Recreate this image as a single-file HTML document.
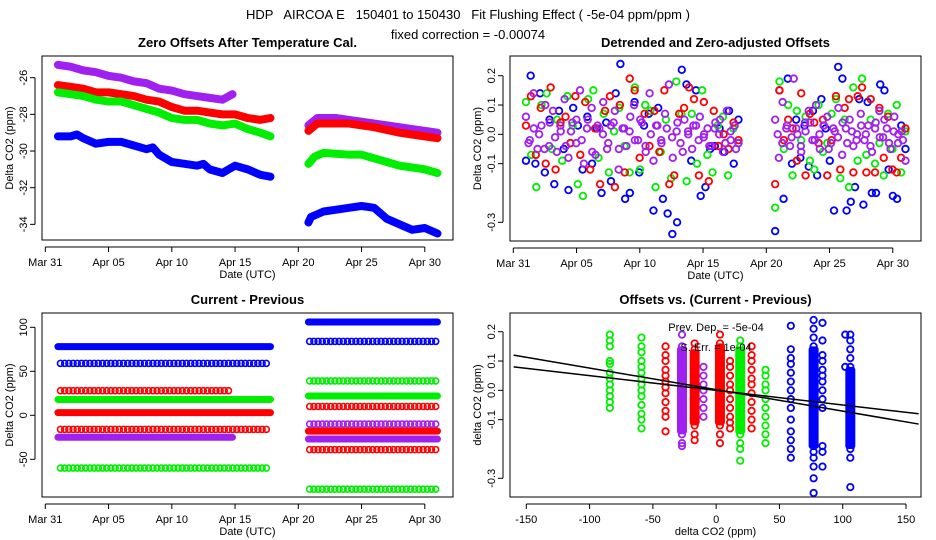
<!DOCTYPE html>
<html><head><meta charset="utf-8">
<style>
body{margin:0;background:#fff;}
svg{display:block;font-family:"Liberation Sans",sans-serif;}
.tk{font-size:11px;fill:#000;}
.ttl{font-size:13px;font-weight:bold;}
.lab{font-size:11px;}
</style></head>
<body>
<svg id="c" width="936" height="540" viewBox="0 0 936 540">
<rect width="936" height="540" fill="#fff"/>
<text x="468" y="19" text-anchor="middle" font-size="13" xml:space="preserve">HDP   AIRCOA E   150401 to 150430   Fit Flushing Effect ( -5e-04 ppm/ppm )</text>
<text x="468" y="39" text-anchor="middle" font-size="13">fixed correction = -0.00074</text>
<g id="g1"></g>
<g id="g2"></g>
<g id="g3"></g>
<g id="g4"></g>
</svg>
<script>
// ===== data =====
const colors = {blue:"#0000ff", red:"#ff0000", green:"#00ee00", purple:"#a020f0"};
const dateTicks = ["Mar 31","Apr 05","Apr 10","Apr 15","Apr 20","Apr 25","Apr 30"];
const dateTickDays = [0,5,10,15,20,25,30];
// Panel 1: [day, value]
const p1BlueA = [[1,-29.2],[2,-29.2],[2.5,-29.1],[3,-29.3],[4,-29.6],[5,-29.5],[6,-29.5],[7,-29.7],[8,-29.9],[8.5,-29.8],[9,-30.2],[10,-30.6],[11,-30.7],[12,-30.8],[12.5,-30.7],[13,-31.0],[14,-31.2],[14.5,-31.0],[15,-30.8],[16,-31.0],[17,-31.3],[17.8,-31.4]];
const p1BlueB = [[20.8,-33.9],[21,-33.6],[22,-33.3],[23,-33.2],[24,-33.1],[25,-33.0],[26,-33.1],[27,-33.7],[28,-34.0],[29,-34.3],[30,-34.2],[31,-34.5]];
const p1RedA = [[1,-26.4],[2,-26.5],[3,-26.6],[4,-26.8],[5,-26.8],[6,-26.9],[7,-27.0],[8,-27.2],[9,-27.3],[10,-27.6],[11,-27.8],[12,-27.8],[13,-27.9],[14,-28.0],[15,-28.0],[16,-28.2],[17,-28.3],[17.8,-28.2]];
const p1RedB = [[20.8,-28.9],[21.5,-28.5],[22,-28.5],[24,-28.5],[26,-28.7],[28,-29.0],[30,-29.2],[31,-29.3]];
const p1GreenA = [[1,-26.8],[2,-26.9],[3,-27.0],[4,-27.2],[5,-27.3],[6,-27.3],[7,-27.5],[8,-27.7],[9,-27.9],[10,-28.2],[11,-28.3],[12,-28.3],[13,-28.5],[14,-28.6],[15,-28.5],[16,-28.8],[17,-29.0],[17.8,-29.2]];
const p1GreenB = [[20.8,-30.7],[21.3,-30.3],[22,-30.1],[24,-30.2],[25,-30.2],[26,-30.4],[27,-30.6],[28,-30.8],[29,-30.9],[30,-31.0],[31,-31.2]];
const p1PurpleA = [[1,-25.3],[2,-25.4],[3,-25.6],[4,-25.7],[5,-25.9],[6,-26.0],[7,-26.2],[8,-26.3],[9,-26.6],[10,-26.7],[11,-26.9],[12,-27.0],[13,-27.1],[14,-27.2],[14.8,-26.9]];
const p1PurpleB = [[20.8,-28.6],[21.5,-28.2],[23,-28.2],[25,-28.4],[27,-28.6],[29,-28.8],[31,-29.0]];
const p1Ticks = [-26,-28,-30,-32,-34];
// Panel 2: detrended values (evenly spread over each segment)
const p2Ticks = [0.2,0.1,0.0,-0.1,-0.3];
const p2TickLabels = ["0.2","0.1","0.0","-0.1","-0.3"];
const p2BlueA = [-0.09,0.2,-0.1,0.14,-0.13,0.05,-0.17,0.08,-0.05,-0.19,0.09,0.03,-0.12,0.06,-0.1,0.02,-0.2,0.04,-0.16,0.14,0.24,-0.22,-0.2,0.11,-0.13,0.03,0.07,-0.26,0.09,-0.22,-0.27,-0.34,-0.3,0.22,0.17,-0.09,0.15,-0.21,-0.18,-0.05,-0.04,0.02,-0.06,0.08,-0.1,0.05];
const p2BlueB = [-0.33,0.15,-0.22,0.19,-0.1,0.05,-0.08,0.03,-0.11,0.08,-0.14,0.12,0.02,-0.09,-0.26,0.23,0.19,-0.26,-0.23,-0.18,0.12,-0.24,0.11,-0.2,-0.2,0.17,0.15,-0.12,-0.21,-0.22,0.03,-0.05];
const p2RedA = [0.03,0.13,-0.07,0.09,-0.1,0.16,-0.12,0.04,0.06,-0.03,0.13,-0.07,0.11,-0.12,0.02,-0.17,0.08,0.13,-0.18,0.1,-0.13,0.19,0.15,-0.08,0.07,-0.04,0.08,-0.06,0.15,-0.17,-0.14,0.07,0.09,0.16,0.12,-0.14,0.11,-0.16,0.08,-0.04,0.0,-0.05,0.04,-0.02];
const p2RedB = [-0.17,0.15,-0.02,0.05,0.02,-0.09,0.14,-0.14,0.07,0.04,-0.03,0.05,-0.14,-0.02,0.13,-0.12,0.09,0.12,-0.13,0.13,0.16,-0.13,0.12,-0.13,0.09,-0.08,0.06,-0.12,-0.13,-0.08,0.02];
const p2GreenA = [0.11,-0.07,-0.18,0.1,0.14,-0.05,0.05,-0.09,0.13,0.03,-0.17,-0.21,0.12,0.15,-0.08,0.07,-0.13,0.01,0.09,-0.04,-0.13,0.16,-0.12,0.1,0.08,-0.18,-0.06,0.05,-0.15,0.18,0.07,-0.16,0.07,-0.1,0.15,-0.07,-0.13,0.03,0.06,-0.14,0.02,-0.03];
const p2GreenB = [-0.25,0.18,-0.05,0.1,-0.14,0.08,-0.02,0.06,-0.09,-0.12,0.1,-0.06,-0.03,0.07,0.12,-0.15,0.05,-0.18,0.16,-0.09,0.19,-0.07,0.05,-0.1,-0.03,-0.14,0.07,-0.05,0.1,-0.13,0.01];
const p2PurpleA = [0.06,-0.02,0.14,-0.05,0.03,0.1,-0.04,0.08,-0.06,0.01,0.12,-0.08,0.04,-0.03,0.15,-0.1,0.05,0.09,-0.07,0.02,0.11,-0.05,0.03,0.08,-0.12,0.02,-0.04,0.06,0.1,-0.02,0.04,-0.06,0.14,-0.09,0.03,-0.02,0.07,0.17,-0.08,0.01,-0.03,0.05,0.0,-0.05,0.03,0.06,-0.01,0.02,-0.04,0.04,0.0,-0.06,0.08,-0.02,0.03,-0.03];
const p2PurpleA2 = [-0.03,0.02,0.0,-0.05,0.04,-0.01,0.03,-0.04,0.01,0.05,-0.02,0.02,-0.06,0.03,0.0,-0.03,0.04,-0.05,0.02,0.01,-0.02,0.05,-0.04,0.0,0.03,-0.03,0.02,-0.01,0.04,-0.06,0.01,0.03,-0.02,0.0,-0.04,0.02,0.05,-0.03,0.01,-0.05];
const p2PurpleB = [0.05,-0.08,0.11,0.02,-0.04,0.19,0.0,-0.06,0.04,0.08,-0.02,0.1,-0.05,0.03,0.06,-0.03,0.01,0.09,-0.07,0.02,0.05,-0.04,0.0,0.07,-0.02,0.03,-0.06,0.04,0.08,-0.01,0.02,-0.05,0.06,-0.03,0.01,-0.09];
const p2PurpleB2 = [0.0,-0.03,0.03,-0.01,0.02,-0.04,0.01,0.04,-0.02,0.0,0.03,-0.05,0.02,-0.01,0.04,-0.03,0.01,-0.02,0.03,0.0,-0.04,0.02,-0.01,0.05,-0.03,0.01,0.0,-0.02];
// Panel 3: levels of each row
const p3Ticks = [100,50,0,-50];
const p3SolidA = [["blue",78],["green",18],["red",3],["purple",-25]];
const p3SolidB = [["blue",106],["green",22],["red",-18],["purple",-27]];
const p3OpenA = [["blue",59,17.7],["red",28,14.8],["red",-16,17.8],["green",-60,17.8]];
const p3OpenB = [["blue",84,31],["green",39,31],["red",10,31],["purple",-10,31],["red",-39,31],["green",-84,31]];
// Panel 4: strips [color, xValue, yValues]
const p4XTicks = [-150,-100,-50,0,50,100,150];
const p4YTicks = [0.2,0.1,0.0,-0.1,-0.3];
const p4Strips = [
 ["green",-84,[0.19,0.17,0.15,0.1,0.09,0.06,0.04,0.02,0.0,-0.02,-0.04,-0.06]],
 ["green",-59,[0.18,0.15,0.13,0.1,0.08,0.06,0.04,0.02,0.0,-0.02,-0.05,-0.08,-0.1,-0.13]],
 ["red",-40,[0.15,0.12,0.1,0.07,0.05,0.03,0.01,-0.01,-0.04,-0.07,-0.09,-0.14]],
 ["purple",-27,[0.19,0.15,0.13,0.11,0.09,0.07,0.05,0.03,0.01,-0.01,-0.03,-0.05,-0.07,-0.09,-0.11,-0.13,-0.15,-0.18,-0.19]],
 ["red",-17,[0.16,0.14,0.12,0.1,0.08,0.06,0.04,0.02,0.0,-0.02,-0.04,-0.06,-0.08,-0.1,-0.12,-0.15,-0.17]],
 ["purple",-10,[0.08,0.05,0.02,0.0,-0.03,-0.06,-0.09]],
 ["red",3,[0.19,0.16,0.14,0.12,0.1,0.08,0.06,0.04,0.02,0.0,-0.02,-0.04,-0.06,-0.08,-0.1,-0.12,-0.15,-0.18]],
 ["red",11,[0.1,0.08,0.05,0.02,0.0,-0.03,-0.06,-0.09,-0.11,-0.13]],
 ["green",19,[0.17,0.15,0.13,0.11,0.09,0.07,0.05,0.03,0.01,-0.01,-0.03,-0.05,-0.07,-0.09,-0.11,-0.13,-0.15,-0.18,-0.2,-0.24]],
 ["red",28,[0.15,0.12,0.1,0.07,0.04,0.02,-0.01,-0.04,-0.07,-0.1,-0.13]],
 ["green",39,[0.07,0.05,0.02,0.0,-0.03,-0.06,-0.09,-0.12,-0.15,-0.18]],
 ["blue",59,[0.22,0.14,0.11,0.09,0.06,0.03,0.0,-0.03,-0.06,-0.1,-0.14,-0.17,-0.2,-0.23]],
 ["blue",77,[0.24,0.21,0.18,0.15,0.13,0.11,0.09,0.07,0.05,0.03,0.01,-0.01,-0.03,-0.05,-0.07,-0.09,-0.11,-0.13,-0.15,-0.17,-0.19,-0.21,-0.23,-0.26,-0.3,-0.35]],
 ["blue",84,[0.23,0.17,0.12,0.1,0.07,0.05,0.03,0.0,-0.03,-0.06,-0.19,-0.21,-0.26]],
 ["blue",102,[0.19,0.08]],
 ["blue",106,[0.19,0.17,0.14,0.11,0.08,0.06,0.03,0.0,-0.03,-0.06,-0.09,-0.12,-0.14,-0.17,-0.2,-0.23,-0.33]]
];
// dense cores of the strips: [color, xValue, low, high]
const p4Cores = [["purple",-27,-0.15,0.15],["red",-17,-0.12,0.14],["red",3,-0.12,0.16],["green",19,-0.15,0.15],["blue",77,-0.2,0.15],["blue",106,-0.2,0.08]];
const p4Lines = [[-160,0.12,160,-0.115],[-160,0.08,160,-0.08]];

// ===== helpers =====
const NS="http://www.w3.org/2000/svg";
function mk(parent,tag,attrs){const e=document.createElementNS(NS,tag);for(const k in attrs)e.setAttribute(k,attrs[k]);parent.appendChild(e);return e;}
function dayX(L,d){return L.x0+(d)*L.pxDay;}
function frame(g,L,title,ylab,xlab){
  const r=mk(g,"rect",{x:L.l,y:L.t,width:L.r-L.l,height:L.b-L.t,fill:"none",stroke:"#000","stroke-width":1});
  
  
  const t=mk(g,"text",{x:(L.l+L.r)/2,y:L.t-9,"text-anchor":"middle",class:"ttl"});t.textContent=title;
  
  
  const yl=mk(g,"text",{x:0,y:0,"text-anchor":"middle",class:"lab",transform:`translate(${L.l-29},${(L.t+L.b)/2}) rotate(-90)`});yl.textContent=ylab;
  
  
  const xl=mk(g,"text",{x:(L.l+L.r)/2,y:L.b+38,"text-anchor":"middle",class:"lab"});xl.textContent=xlab;
  
  
}
function yAxis(g,L,vals,labels,ys){
  mk(g,"line",{x1:L.l-7,x2:L.l-7,y1:ys(vals[0]),y2:ys(vals[vals.length-1]),stroke:"#000"});
  vals.forEach((v,i)=>{const y=ys(v);
    mk(g,"line",{x1:L.l-7,x2:L.l-12,y1:y,y2:y,stroke:"#000"});
    const t=mk(g,"text",{x:0,y:0,"text-anchor":"middle",class:"tk",transform:`translate(${L.l-15},${y}) rotate(-90)`});
    t.textContent=labels[i];
    
    
  });
}
function xAxis(g,L,vals,labels,xs){
  mk(g,"line",{x1:xs(vals[0]),x2:xs(vals[vals.length-1]),y1:L.b+7,y2:L.b+7,stroke:"#000"});
  vals.forEach((v,i)=>{const x=xs(v);
    mk(g,"line",{x1:x,x2:x,y1:L.b+7,y2:L.b+12,stroke:"#000"});
    const t=mk(g,"text",{x:x,y:L.b+26,"text-anchor":"middle",class:"tk"});
    t.textContent=labels[i];
    
    
  });
}
function circ(g,x,y,col,r,sw){const c=mk(g,"circle",{cx:x,cy:y,r:r,fill:"none",stroke:col,"stroke-width":sw});return c;}

// ===== Panel 1 =====
(function(){
 const g=document.getElementById("g1");
 const L={l:42,r:453,t:56,b:240,x0:45.3,pxDay:12.65};
 const ys=v=>77.7+(-26-v)*18.33, xs=d=>dayX(L,d);
 frame(g,L,"Zero Offsets After Temperature Cal.","Delta CO2 (ppm)","Date (UTC)");
 yAxis(g,L,p1Ticks,p1Ticks.map(String),ys);
 xAxis(g,L,dateTickDays,dateTicks,xs);
 const sets=[["purple",p1PurpleA],["purple",p1PurpleB],["red",p1RedA],["red",p1RedB],["green",p1GreenA],["green",p1GreenB],["blue",p1BlueA],["blue",p1BlueB]];
 sets.forEach(([c,arr])=>{
   const pl=mk(g,"polyline",{points:arr.map(p=>xs(p[0])+","+ys(p[1])).join(" "),fill:"none",stroke:colors[c],"stroke-width":8,"stroke-linejoin":"round","stroke-linecap":"round"});
   
   
 });
})();

// ===== Panel 2 =====
(function(){
 const g=document.getElementById("g2");
 const L={l:510,r:921,t:56,b:241,x0:513.3,pxDay:12.65};
 const ys=v=>75.7-(v-0.2)*293.2, xs=d=>dayX(L,d);
 frame(g,L,"Detrended and Zero-adjusted Offsets","Delta CO2 (ppm)","Date (UTC)");
 yAxis(g,L,p2Ticks,p2TickLabels,ys);
 xAxis(g,L,dateTickDays,dateTicks,xs);
 const sets=[["blue",p2BlueA,1,17.8],["blue",p2BlueB,20.7,31],["green",p2GreenA,1,17.8],["green",p2GreenB,20.7,31],["red",p2RedA,1,17.8],["red",p2RedB,20.7,31],["purple",p2PurpleA,1,17.8],["purple",p2PurpleB,20.7,31],["purple",p2PurpleA2,1.2,17.6],["purple",p2PurpleB2,20.9,30.8]];
 sets.forEach(([c,arr,t0,t1])=>{
   arr.forEach((v,i)=>{
     const d=t0+(t1-t0)*i/(arr.length-1);
     const p=circ(g,xs(d),ys(v),colors[c],3.3,1.8);
     
     
   });
 });
})();

// ===== Panel 3 =====
(function(){
 const g=document.getElementById("g3");
 const L={l:42,r:453,t:313,b:497,x0:45.3,pxDay:12.65};
 const ys=v=>327.3-(v-100)*0.88, xs=d=>dayX(L,d);
 frame(g,L,"Current - Previous","Delta CO2 (ppm)","Date (UTC)");
 yAxis(g,L,p3Ticks,p3Ticks.map(String),ys);
 xAxis(g,L,dateTickDays,dateTicks,xs);
 function solid(c,lev,t0,t1){
   const l=mk(g,"line",{x1:xs(t0),x2:xs(t1),y1:ys(lev),y2:ys(lev),stroke:colors[c],"stroke-width":7,"stroke-linecap":"round"});
   
   
 }
 function open(c,lev,t0,t1){
   for(let x=xs(t0);x<=xs(t1);x+=4.2){
     const p=circ(g,x,ys(lev),colors[c],3,1.6);
     
     
   }
 }
 p3OpenA.forEach(([c,lev,t1])=>open(c,lev,1.2,t1));
 p3OpenB.forEach(([c,lev,t1])=>open(c,lev,20.9,t1));
 p3SolidA.forEach(([c,lev])=>solid(c,lev,1,c==="purple"?14.8:17.8));
 p3SolidB.forEach(([c,lev])=>solid(c,lev,20.8,31));
})();

// ===== Panel 4 =====
(function(){
 const g=document.getElementById("g4");
 const L={l:510,r:921,t:313,b:497};
 const xs=v=>526.3+(v+150)*1.2657, ys=v=>331.7-(v-0.2)*293.2;
 frame(g,L,"Offsets vs. (Current - Previous)","delta CO2 (ppm)","delta CO2 (ppm)");
 yAxis(g,L,p4YTicks,p2TickLabels,ys);
 xAxis(g,L,p4XTicks,p4XTicks.map(String),xs);
 p4Cores.forEach(([c,xv,lo,hi])=>{
   const r=mk(g,"rect",{x:xs(xv)-5,y:ys(hi),width:10,height:ys(lo)-ys(hi),fill:colors[c],rx:3});
   
   
 });
 p4Strips.forEach(([c,xv,vals])=>{
   vals.forEach(v=>{
     const p=circ(g,xs(xv),ys(v),colors[c],3.2,1.8);
     
     
   });
 });
 p4Lines.forEach(([a,b,c2,d])=>{
   const l=mk(g,"line",{x1:xs(a),y1:ys(b),x2:xs(c2),y2:ys(d),stroke:"#000","stroke-width":1.5});
   
   
 });
 const t1=mk(g,"text",{x:716,y:331,"text-anchor":"middle",class:"tk","font-size":12});t1.textContent="Prev. Dep. =  -5e-04";
 
 
 const t2=mk(g,"text",{x:716,y:351,"text-anchor":"middle",class:"tk","font-size":12});t2.textContent="S. Err. =  1e-04";
 
 
})();
</script>
</body></html>
